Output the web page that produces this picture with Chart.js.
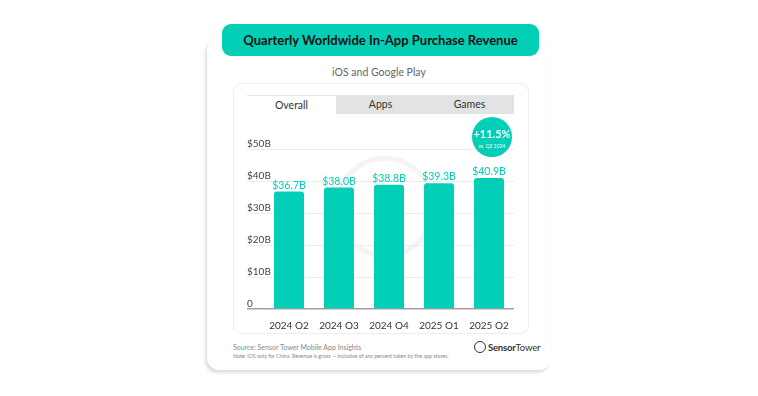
<!DOCTYPE html>
<html>
<head>
<meta charset="utf-8">
<script src="https://cdn.jsdelivr.net/npm/chart.js@4"></script>
<style>
  html, body { margin: 0; padding: 0; background: #fff; }
  body { width: 758px; height: 396px; position: relative; overflow: hidden; font-family: Lato, sans-serif; }
  .card { position: absolute; left: 207px; top: 38px; width: 344px; height: 332px; background: #fff;
          border-radius: 12px; box-shadow: -2px 3px 3px rgba(0,0,0,0.12), 0 0 2px rgba(0,0,0,0.06); }
  .pill { position: absolute; left: 222px; top: 24px; width: 317px; height: 32px; background: #03cfb6;
          border-radius: 9px; color: #111; font: bold 13px Lato, sans-serif;
          display: flex; align-items: center; justify-content: center; }
  .sub { position: absolute; left: 207px; width: 344px; top: 66px; text-align: center; color: #666; font-size: 10.5px; }
  .inner { position: absolute; left: 233px; top: 83px; width: 294px; height: 249px; border: 1px solid #eee;
           border-radius: 9px; background: #fff; }
  .tabs { position: absolute; left: 247px; top: 95px; width: 267px; height: 19px; background: #e3e3e3; display: flex; }
  .tabs div { flex: 1; text-align: center; font-size: 10.5px; line-height: 19px; color: #333; }
  .tabs div.on { background: #fff; border-top: 1px solid #e3e3e3; line-height: 19px; }
  .ring { position: absolute; left: 334px; top: 156px; width: 92px; height: 92px; border-radius: 50%;
          border: 5px solid #f4f4f4; }
  .src { position: absolute; left: 233px; top: 343px; font-size: 7px; color: #888; }
  .note { position: absolute; left: 233px; top: 353px; font-size: 5.3px; color: #888; }
  .logo { position: absolute; left: 474px; top: 341px; font-size: 9.5px; color: #333; display: flex; align-items: center; letter-spacing: -0.2px; }
  .logo .ic { width: 10px; height: 10px; border: 1.3px solid #333; border-radius: 50%; margin-right: 2px; }
  canvas { position: absolute; left: 0; top: 0; }
</style>
</head>
<body>
<div class="card"></div>
<div class="pill">Quarterly Worldwide In-App Purchase Revenue</div>
<div class="sub">iOS and Google Play</div>
<div class="inner"></div>
<div class="tabs"><div class="on">Overall</div><div>Apps</div><div>Games</div></div>
<div class="ring"></div>
<div class="src">Source: Sensor Tower Mobile App Insights</div>
<div class="note">Note: iOS only for China. Revenue is gross — inclusive of any percent taken by the app stores.</div>
<div class="logo"><span class="ic"></span><b>Sensor</b>Tower</div>
<canvas id="chart" width="758" height="396"></canvas>
<script>
const quarters = ['2024 Q2', '2024 Q3', '2024 Q4', '2025 Q1', '2025 Q2'];
const revenue = [36.7, 38.0, 38.8, 39.3, 40.9];
const yTicks = [0, 10, 20, 30, 40, 50];
const growthLabel = '+11.5%';
const growthNote = 'vs. Q2 2024';

const teal = '#03cfb6';

// value labels on top of bars + growth bubble above the last bar
const barLabels = {
  id: 'barLabels',
  afterDatasetsDraw(chart) {
    const { ctx } = chart;
    const meta = chart.getDatasetMeta(0);
    ctx.save();
    ctx.fillStyle = teal;
    ctx.font = '10.5px Lato, sans-serif';
    ctx.textAlign = 'center';
    ctx.textBaseline = 'bottom';
    meta.data.forEach((bar, i) => {
      ctx.fillText('$' + revenue[i].toFixed(1) + 'B', bar.x, bar.y - 1);
    });
    const last = meta.data[meta.data.length - 1];
    const cx = last.x + 3, cy = chart.scales.y.getPixelForValue(50) - 12;
    ctx.beginPath();
    ctx.arc(cx, cy, 20, 0, Math.PI * 2);
    ctx.fill();
    ctx.fillStyle = '#fff';
    ctx.textBaseline = 'middle';
    ctx.font = 'bold 11px Lato, sans-serif';
    ctx.fillText(growthLabel, cx, cy - 3);
    ctx.font = '5px Lato, sans-serif';
    ctx.fillText(growthNote, cx, cy + 9);
    ctx.restore();
  }
};

// y tick labels sit above their gridlines, left aligned
const yLabels = {
  id: 'yLabels',
  afterDraw(chart) {
    const { ctx } = chart;
    const y = chart.scales.y;
    ctx.save();
    ctx.fillStyle = '#444';
    ctx.font = '10px Lato, sans-serif';
    ctx.textAlign = 'left';
    ctx.textBaseline = 'middle';
    yTicks.forEach(v => {
      ctx.fillText(v === 0 ? '0' : '$' + v + 'B', y.left, y.getPixelForValue(v) - 5);
    });
    ctx.restore();
  }
};

new Chart(document.getElementById('chart'), {
  type: 'bar',
  data: {
    labels: quarters,
    datasets: [{
      data: revenue,
      backgroundColor: teal,
      borderRadius: { topLeft: 3, topRight: 3 },
      borderSkipped: 'bottom',
      barPercentage: 0.6,
      categoryPercentage: 1
    }]
  },
  options: {
    responsive: false,
    animation: false,
    layout: { padding: { left: 247, right: 244, top: 149, bottom: 67 } },
    plugins: { legend: { display: false }, tooltip: { enabled: false } },
    scales: {
      x: {
        grid: { display: false },
        border: { display: false },
        ticks: { color: '#333', font: { size: 10, family: 'Lato, sans-serif' }, padding: 3 },
        afterFit(s) { s.height = 20; }
      },
      y: {
        min: 0, max: 50,
        afterBuildTicks(s) { s.ticks = yTicks.map(v => ({ value: v })); },
        grid: {
          color: c => c.tick && c.tick.value === 0 ? '#a0a0a0' : '#ececec',
          lineWidth: c => c.tick && c.tick.value === 0 ? 1.5 : 1,
          drawTicks: true,
          tickLength: 17
        },
        border: { display: false },
        ticks: { display: false },
        afterFit(s) { s.width = 17; }
      }
    }
  },
  plugins: [barLabels, yLabels]
});
</script>
</body>
</html>
